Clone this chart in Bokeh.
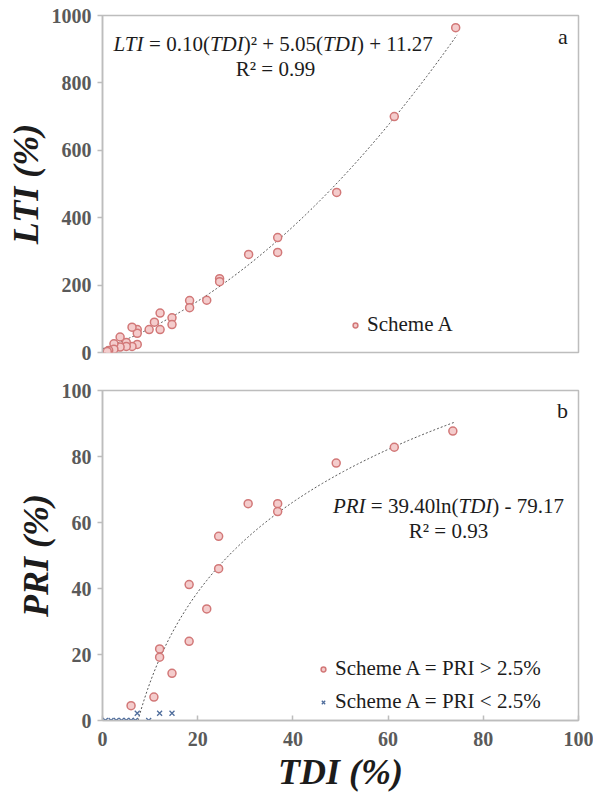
import math
import numpy as np
from bokeh.plotting import figure
from bokeh.layouts import column
from bokeh.models import Range1d, FixedTicker, Label, Legend, LegendItem
from bokeh.embed import file_html
from bokeh.resources import INLINE

# ---------------- data ----------------
tdi_a = [74.2, 61.3, 49.2, 36.8, 36.8, 30.7, 24.6, 24.6, 21.9, 18.3, 18.3, 14.6, 14.6,
         12.1, 12.1, 10.9, 9.8, 7.3, 7.3, 6.2, 7.3, 6.2, 5.0, 5.0, 3.7, 3.7, 2.4, 2.4, 1.3, 1.0]
lti_a = [964, 700, 475, 341, 297, 291, 219, 210, 155, 154, 133, 103, 83,
         117, 68, 90, 68, 68, 57, 75, 24, 18, 30, 18, 46, 16, 26, 10, 6, 3]

tdi_hi = [6.0, 10.8, 12.0, 12.0, 14.6, 18.2, 18.2, 21.9, 24.4, 24.4, 30.6, 36.8, 36.8, 49.1, 61.3, 73.6]
pri_hi = [4.5, 7.1, 21.7, 19.2, 14.3, 41.2, 24.0, 33.8, 55.8, 46.0, 65.7, 65.7, 63.3, 78.0, 82.8, 87.7]

tdi_lo = [0.6, 1.8, 2.9, 4.0, 5.0, 6.0, 6.9, 7.3, 9.7, 12.0, 14.6]
pri_lo = [0.0, 0.0, 0.0, 0.0, 0.0, 0.0, 0.0, 2.2, 0.0, 2.2, 2.2]

x_ticks = [0, 20, 40, 60, 80, 100]
lti_ticks = [0, 200, 400, 600, 800, 1000]
pri_ticks = [0, 20, 40, 60, 80, 100]

lti_fit = (0.10, 5.05, 11.27)     # a, b, c
pri_fit = (39.40, -79.17)         # a, b
lti_fit_xmax = 74.5
pri_fit_xmax = 74.0

# ---------------- style ----------------
FONT = "Liberation Serif"
PINK_LINE = "#d27878"
PINK_FILL = "#f4cccc"
BLUE = "#4f6d9c"
GRAY = "#bdbdbd"
TXT = "#1c1c1c"
TICK_TXT = "#5a5a5a"

W = 593
FL, FR = 102, 578
T1_TOP, T1_BOT = 15, 352
H1 = 372
T2_TOP, T2_BOT = 390, 720
H2 = 798 - H1

# Times / Liberation Serif advance widths (1/1000 em)
ADV = {
    "normal": {' ': 250, '=': 564, '+': 564, '-': 333, '.': 250, '(': 333, ')': 333,
               'l': 278, 'n': 500, 'R': 667, '²': 300, **{d: 500 for d in "0123456789"}},
    "italic": {'L': 556, 'T': 556, 'I': 333, 'D': 722, 'P': 611, 'R': 611},
}


def adv(text, style, size):
    return sum(ADV[style].get(c, 500) for c in text) * size / 1000.0


def rich(p, frame_bottom, pieces, cx, cy, size, color=TXT):
    """pieces: list of (text, style); centred at page coords (cx, cy)."""
    total = sum(adv(t, s, size) for t, s in pieces)
    pos = -total / 2.0
    for t, s in pieces:
        lead = len(t) - len(t.lstrip(' '))
        start = pos + adv(' ' * lead, s, size)
        txt = t.strip(' ')
        p.add_layout(Label(x=0, y=0, x_offset=cx + start - FL, y_offset=frame_bottom - cy,
                           text=txt, text_font=FONT, text_font_size=f"{size}px",
                           text_font_style=s, text_color=color,
                           text_align="left", text_baseline="middle"))
        pos += adv(t, s, size)


def style_fig(p, yticks, show_x, ylabel):
    p.outline_line_color = GRAY
    p.outline_line_width = 1.5
    p.xgrid.visible = False
    p.ygrid.visible = False
    p.background_fill_color = "white"
    p.border_fill_color = "white"
    for ax in (p.yaxis[0], p.xaxis[0]):
        ax.axis_line_color = GRAY
        ax.axis_line_width = 1.5
        ax.major_tick_line_color = GRAY
        ax.major_tick_line_width = 1.5
        ax.minor_tick_line_color = None
        ax.major_label_text_font = FONT
        ax.major_label_text_font_size = "20px"
        ax.major_label_text_font_style = "bold"
        ax.major_label_text_color = TICK_TXT
        ax.axis_label_text_font = FONT
        ax.axis_label_text_font_size = "36px"
        ax.axis_label_text_font_style = "bold italic"
        ax.axis_label_text_color = TXT
    p.yaxis.ticker = FixedTicker(ticks=yticks)
    p.yaxis.major_tick_out = 5
    p.yaxis.major_tick_in = 0
    p.yaxis.major_label_standoff = 6
    p.yaxis.axis_label = ylabel
    p.yaxis.axis_label_standoff = 3
    p.xaxis.ticker = FixedTicker(ticks=x_ticks)
    p.xaxis.major_tick_in = 5
    p.xaxis.major_tick_out = 0
    p.xaxis.major_label_standoff = 11
    p.xaxis.axis_label_standoff = 3
    p.xaxis.visible = show_x


# ---------------- panel a ----------------
p1 = figure(width=W, height=H1, output_backend="svg", toolbar_location=None,
            x_range=Range1d(0, 100), y_range=Range1d(0, 1000),
            min_border_left=FL, min_border_right=W - FR,
            min_border_top=T1_TOP, min_border_bottom=H1 - T1_BOT)
style_fig(p1, lti_ticks, False, "LTI (%)")

xa = np.linspace(0, lti_fit_xmax, 200)
ya = lti_fit[0] * xa ** 2 + lti_fit[1] * xa + lti_fit[2]
p1.line(xa, ya, line_color="#555555", line_width=1, line_dash="2 2")
r1 = p1.scatter(tdi_a, lti_a, marker="circle", size=8, line_color=PINK_LINE,
                fill_color=PINK_FILL, line_width=1.5)

leg1 = Legend(items=[LegendItem(label="Scheme A", renderers=[r1])],
              location=(247, 15), border_line_color=None, background_fill_alpha=0,
              label_text_font=FONT, label_text_font_size="21px", label_text_color=TXT,
              glyph_width=12, glyph_height=24, label_height=24, label_standoff=6,
              padding=0, spacing=8, margin=0)
p1.add_layout(leg1)

rich(p1, T1_BOT, [("LTI", "italic"), (" = 0.10(", "normal"), ("TDI", "italic"),
                  (")² + 5.05(", "normal"), ("TDI", "italic"), (") + 11.27", "normal")],
     273, 43, 21)
rich(p1, T1_BOT, [("R² = 0.99", "normal")], 275, 68, 21)
rich(p1, T1_BOT, [("a", "normal")], 563, 36, 22)

# ---------------- panel b ----------------
p2 = figure(width=W, height=H2, output_backend="svg", toolbar_location=None,
            x_range=Range1d(0, 100), y_range=Range1d(0, 100),
            min_border_left=FL, min_border_right=W - FR,
            min_border_top=T2_TOP - H1, min_border_bottom=H1 + H2 - T2_BOT)
style_fig(p2, pri_ticks, True, "PRI (%)")
p2.xaxis.axis_label = "TDI (%)"

x0 = math.exp(-pri_fit[1] / pri_fit[0])
xb = np.linspace(x0, pri_fit_xmax, 200)
yb = pri_fit[0] * np.log(xb) + pri_fit[1]
p2.line(xb, yb, line_color="#555555", line_width=1, line_dash="2 2")
r_hi = p2.scatter(tdi_hi, pri_hi, marker="circle", size=8, line_color=PINK_LINE,
                  fill_color=PINK_FILL, line_width=1.5)
r_lo = p2.scatter(tdi_lo, pri_lo, marker="x", size=7, line_color=BLUE, line_width=1.3)

leg2 = Legend(items=[LegendItem(label="Scheme A = PRI > 2.5%", renderers=[r_hi]),
                     LegendItem(label="Scheme A = PRI < 2.5%", renderers=[r_lo])],
              location=(215, 6), border_line_color=None, background_fill_alpha=0,
              label_text_font=FONT, label_text_font_size="21px", label_text_color=TXT,
              glyph_width=12, glyph_height=24, label_height=24, label_standoff=6,
              padding=0, spacing=8, margin=0)
p2.add_layout(leg2)

b_off = H1  # page y offset of panel b
rich(p2, T2_BOT - b_off, [("PRI", "italic"), (" = 39.40ln(", "normal"), ("TDI", "italic"),
                          (") - 79.17", "normal")], 448, 505 - b_off, 21)
rich(p2, T2_BOT - b_off, [("R² = 0.93", "normal")], 448, 530 - b_off, 21)
rich(p2, T2_BOT - b_off, [("b", "normal")], 562, 410 - b_off, 22)

layout = column(p1, p2, spacing=0)
open("out.html", "w").write(file_html(layout, INLINE))
